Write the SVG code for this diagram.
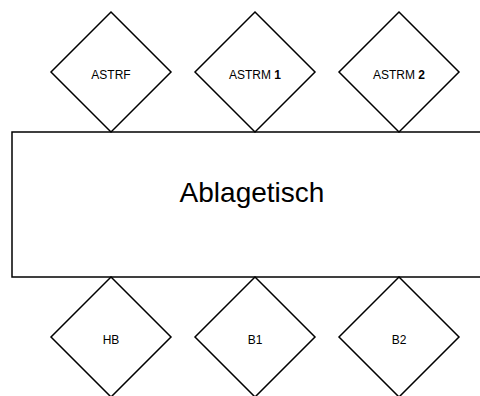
<svg xmlns="http://www.w3.org/2000/svg" width="480" height="396" viewBox="0 0 480 396">
<style>
.s{fill:#fff;stroke:#000;stroke-width:1.5}
.t{font-family:"Liberation Sans",Arial,sans-serif;font-size:12px;fill:#000;text-anchor:middle}
.b{font-weight:bold}
.big{font-family:"Liberation Sans",Arial,sans-serif;font-size:28px;fill:#000;text-anchor:middle}
</style>
<rect width="480" height="396" fill="#fff"/>
<g id="connectors"></g>
<g id="ablagetisch">
<rect class="s" x="12" y="132" width="480" height="145"/>
<text class="big" x="252" y="202">Ablagetisch</text>
</g>
<g id="astrf">
<polygon class="s" points="111,12 171,72 111,132 51,72"/>
<text class="t" x="111" y="79">ASTRF</text>
</g>
<g id="astrm1">
<polygon class="s" points="255,12 315,72 255,132 195,72"/>
<text class="t" x="255" y="79">ASTRM <tspan class="b">1</tspan></text>
</g>
<g id="astrm2">
<polygon class="s" points="399,12 459,72 399,132 339,72"/>
<text class="t" x="399" y="79">ASTRM <tspan class="b">2</tspan></text>
</g>
<g id="hb">
<polygon class="s" points="111,277 171,337 111,397 51,337"/>
<text class="t" x="111" y="344">HB</text>
</g>
<g id="b1">
<polygon class="s" points="255,277 315,337 255,397 195,337"/>
<text class="t" x="255" y="344">B1</text>
</g>
<g id="b2">
<polygon class="s" points="399,277 459,337 399,397 339,337"/>
<text class="t" x="399" y="344">B2</text>
</g>
</svg>
